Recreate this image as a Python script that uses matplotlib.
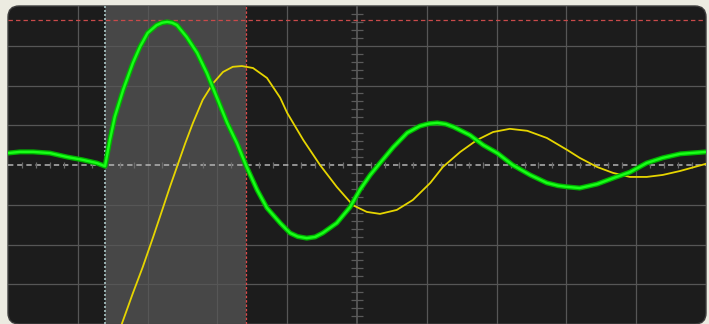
"""Scope capture: CH1 (green) and CH2 (yellow) damped ringing after the trigger,
with the trigger line, the cursor pair and the measured window shaded.

Everything is in screen divisions: 10 across, 8 down, centre at (0, 0).
"""
import numpy as np
import matplotlib
matplotlib.use("Agg")
import matplotlib.pyplot as plt
from matplotlib.patches import FancyBboxPatch

# CH1 (green)
CH1_X = [-5.00, -4.83, -4.64, -4.40, -4.15, -3.93, -3.73, -3.61, -3.54, -3.47,
         -3.35, -3.21, -3.11, -3.00, -2.87, -2.79, -2.72, -2.65, -2.58, -2.44,
         -2.29, -2.15, -2.01, -1.86, -1.72, -1.58, -1.43, -1.29, -1.10, -0.96,
         -0.85, -0.72, -0.60, -0.49, -0.29, -0.10, 0.04, 0.19, 0.33, 0.52,
         0.72, 0.90, 1.03, 1.15, 1.27, 1.38, 1.62, 1.81, 2.01, 2.23,
         2.48, 2.72, 2.88, 3.01, 3.19, 3.44, 3.67, 3.91, 4.15, 4.38,
         4.63, 5.00]
CH1_Y = [0.30, 0.33, 0.33, 0.30, 0.20, 0.13, 0.05, -0.03, 0.63, 1.21,
         1.89, 2.57, 2.97, 3.32, 3.52, 3.58, 3.60, 3.58, 3.52, 3.22,
         2.82, 2.31, 1.71, 1.06, 0.55, -0.05, -0.63, -1.08, -1.46, -1.71,
         -1.80, -1.84, -1.81, -1.71, -1.46, -1.06, -0.63, -0.25, 0.05, 0.45,
         0.81, 0.98, 1.04, 1.06, 1.03, 0.96, 0.75, 0.50, 0.30, 0.00,
         -0.25, -0.45, -0.52, -0.55, -0.58, -0.48, -0.33, -0.18, 0.05, 0.18,
         0.28, 0.33]

# CH2 (yellow), starts below the bottom of the screen
CH2_X = [-3.41, -3.37, -3.21, -3.07, -2.92, -2.79, -2.68, -2.58, -2.46, -2.35,
         -2.21, -2.06, -1.92, -1.78, -1.65, -1.49, -1.29, -1.10, -1.00, -0.77,
         -0.53, -0.29, -0.06, 0.14, 0.33, 0.57, 0.80, 1.05, 1.23, 1.48,
         1.72, 1.95, 2.19, 2.44, 2.72, 3.01, 3.19, 3.44, 3.67, 3.91,
         4.15, 4.38, 4.63, 5.00]
CH2_Y = [-4.23, -4.00, -3.22, -2.57, -1.81, -1.13, -0.55, -0.05, 0.55, 1.06,
         1.64, 2.06, 2.34, 2.47, 2.49, 2.44, 2.19, 1.69, 1.31, 0.63,
         0.00, -0.55, -1.01, -1.18, -1.23, -1.13, -0.88, -0.45, -0.05, 0.33,
         0.63, 0.83, 0.91, 0.86, 0.68, 0.38, 0.18, -0.05, -0.20, -0.30,
         -0.30, -0.25, -0.15, 0.03]

TRIG_X = -3.61      # trigger position
CURSOR_X = -1.59    # time cursor
CURSOR_Y = 3.65     # level cursor

BG = "#ecebe1"
SCREEN = "#1c1c1c"
SHADE = "#474747"
GRID = "#565656"

fig = plt.figure(figsize=(7.09, 3.24), dpi=100, facecolor=BG)

# rounded screen panel (inches, so the corner radius is round), behind the axes
panel = FancyBboxPatch((0.08, 0.0), 6.98, 3.18,
                       boxstyle="round,pad=0,rounding_size=0.11",
                       transform=fig.dpi_scale_trans, facecolor=SCREEN,
                       edgecolor="#3e3e3e", lw=1.0, zorder=-10)
fig.patches.append(panel)

ax = fig.add_axes([8 / 709, 0.0, 698 / 709, 318 / 324])
ax.set_zorder(1)
ax.set_xlim(-5, 5)
ax.set_ylim(-4, 4)
ax.patch.set_visible(False)
for s in ax.spines.values():
    s.set_visible(False)
ax.set_xticks([])
ax.set_yticks([])

ax.axvspan(TRIG_X, CURSOR_X, color=SHADE, lw=0, zorder=0)

for gx in range(-4, 5):
    ax.axvline(gx, color=GRID, lw=1.3 if gx == 0 else 0.9, zorder=1)
for gy in range(-3, 4):
    if gy != 0:
        ax.axhline(gy, color=GRID, lw=0.9, zorder=1)

# centre axis with minor ticks every 1/5 division
ax.axhline(0, color="#b4b4b4", lw=1.1, ls=(0, (3.5, 2.5)), zorder=2)
minor_x = [v for v in np.arange(-5, 5.01, 0.2) if abs(v - round(v)) > 1e-6]
minor_y = [v for v in np.arange(-4, 4.01, 0.2) if abs(v - round(v)) > 1e-6]
ax.vlines(minor_x, -0.07, 0.07, color="#6a6a6a", lw=0.9, zorder=2)
ax.hlines(minor_y, -0.085, 0.085, color="#5a5a5a", lw=0.9, zorder=2)

# cursors and trigger marker
ax.axvline(TRIG_X, color="#a9c6c6", lw=1.2, ls=(0, (1.2, 1.2)), zorder=3)
ax.axvline(CURSOR_X, color="#e04a4a", lw=0.9, ls=(0, (2, 1.5)), zorder=3)
ax.axhline(CURSOR_Y, color="#c94a4a", lw=0.9, ls=(0, (3.5, 2.5)), zorder=3)

# traces
ax.plot(CH2_X, CH2_Y, color="#e6d500", lw=1.3, solid_joinstyle="round", zorder=4)
ax.plot(CH1_X, CH1_Y, color="#00b400", lw=3.6, solid_joinstyle="round", zorder=5)
ax.plot(CH1_X, CH1_Y, color="#18ff18", lw=1.7, solid_joinstyle="round", zorder=6)

for art in ax.get_children():
    art.set_clip_path(panel)

fig.savefig("out.png", dpi=100, facecolor=BG)
